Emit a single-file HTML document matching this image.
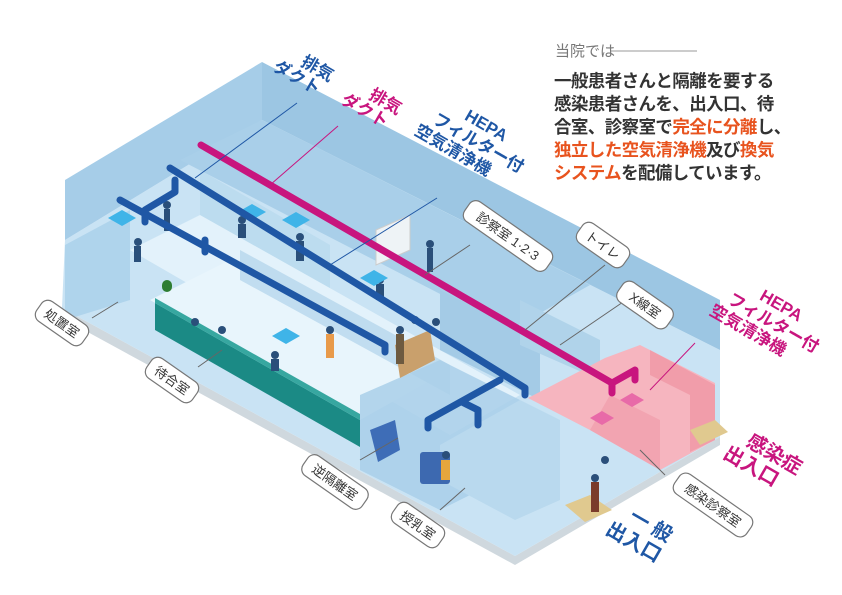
<!DOCTYPE html>
<html><head><meta charset="utf-8">
<style>
html,body{margin:0;padding:0;background:#fff;}
svg{display:block;font-family:"Liberation Sans","Noto Sans CJK JP",sans-serif;}
.lab rect{fill:#fff;stroke:#777;stroke-width:1.2;}
.lab text{font-size:13px;fill:#333;}
</style></head><body>
<svg width="842" height="595" viewBox="0 0 842 595" xmlns="http://www.w3.org/2000/svg">
<!-- floor slab base -->
<polygon points="62,318 515,565 720,445 720,437 515,556 62,308" fill="#cfd8de"/>
<!-- floor -->
<polygon points="62,308 515,556 720,437 720,350 262,120 65,240" fill="#c9e3f4"/>
<!-- back walls -->
<polygon points="65,240 262,120 262,62 65,180" fill="#a6cde8"/>
<polygon points="262,120 720,350 720,300 262,62" fill="#9cc6e3"/>
<!-- exam room block (between back wall and upper duct) -->
<polygon points="180,160 262,120 590,285 510,330" fill="#a9cfe9"/>
<polygon points="200,225 330,300 330,245 200,170" fill="#b9d9ee" opacity="0.8"/>
<!-- corridor lighter -->
<polygon points="130,250 200,215 520,395 450,435" fill="#e3f2fb"/>
<!-- waiting area lighter -->
<polygon points="150,300 230,260 440,375 360,420" fill="#e8f5fc"/>
<!-- interior partitions / rooms -->
<polygon points="65,245 130,210 130,300 65,320" fill="#a9d0ea" opacity="0.8"/>
<polygon points="240,250 450,365 450,395 240,280" fill="#a6cde7" opacity="0.6"/>
<polygon points="440,290 540,340 540,400 440,350" fill="#a4cbe6"/>
<polygon points="520,300 600,340 600,380 520,345" fill="#b0d3ea"/>
<polygon points="360,395 440,360 520,400 520,470 440,510 360,470" fill="#a9cfe9" opacity="0.85"/>
<polygon points="440,445 520,400 560,420 560,500 515,520 440,480" fill="#b9d9ee"/>
<!-- pink infection area -->
<polygon points="528,398 605,358 640,345 715,383 715,440 660,470 590,430" fill="#f6b5bf"/>
<polygon points="590,430 660,470 660,420 610,395" fill="#f09aa8" opacity="0.6"/>
<polygon points="650,350 715,385 715,440 690,452 690,395 650,375" fill="#ef8e9d" opacity="0.6"/>
<!-- bench (teal) -->
<polygon points="155,303 360,420 360,447 155,330" fill="#1b8a85"/>
<polygon points="155,298 360,414 360,420 155,303" fill="#37a7a0"/>
<!-- sofas -->
<polygon points="370,430 395,420 400,450 378,462" fill="#3e6db7"/>
<rect x="420" y="452" width="30" height="32" rx="3" fill="#3d69b0"/>
<!-- counter -->
<polygon points="395,345 430,330 435,360 400,378" fill="#c9a06c"/>
<!-- entrances steps -->
<polygon points="565,505 590,495 612,510 585,522" fill="#e0c98f"/>
<polygon points="690,430 715,420 728,432 700,445" fill="#e0c98f"/>
<!-- people (simple blobs) -->
<g fill="#2a4f7a">
<circle cx="167" cy="205" r="4"/><rect x="164" y="209" width="6" height="22"/>
<circle cx="138" cy="242" r="4"/><rect x="134" y="246" width="7" height="16"/>
<circle cx="242" cy="220" r="4"/><rect x="238" y="224" width="8" height="14"/>
<circle cx="300" cy="237" r="4"/><rect x="296" y="241" width="8" height="20"/>
<circle cx="380" cy="280" r="4"/><rect x="376" y="284" width="8" height="16"/>
<circle cx="430" cy="244" r="4"/><rect x="427" y="248" width="6" height="24"/>
<circle cx="195" cy="322" r="4"/><circle cx="222" cy="330" r="4"/>
<circle cx="275" cy="355" r="4"/><rect x="271" y="359" width="8" height="12"/>
<circle cx="330" cy="330" r="4"/><rect x="326" y="334" width="8" height="24" fill="#e89a4a"/>
<circle cx="400" cy="330" r="4"/><rect x="396" y="334" width="8" height="30" fill="#6d5a40"/>
<circle cx="415" cy="320" r="4"/><circle cx="436" cy="322" r="4"/>
<circle cx="446" cy="455" r="4"/><rect x="441" y="460" width="9" height="20" fill="#e6a63c"/>
<circle cx="595" cy="478" r="4"/><rect x="591" y="482" width="8" height="30" fill="#7a3b2b"/>
<circle cx="605" cy="460" r="4"/>
</g>
<rect x="162" y="280" width="10" height="12" fill="#2e7d32" rx="5"/>
<polygon points="376,230 410,215 410,250 376,265" fill="#eef3f6" stroke="#ccc"/>
<!-- blue air pads -->
<g fill="#3fb4e8">
<polygon points="108,218 122,210 136,218 122,226"/>
<polygon points="272,336 286,328 300,336 286,344"/>
<polygon points="282,220 296,212 310,220 296,228"/>
<polygon points="360,278 374,270 388,278 374,286"/>
<polygon points="238,212 252,204 266,212 252,220"/>
</g>
<g fill="#e86aa8">
<polygon points="590,418 602,411 614,418 602,425"/>
<polygon points="620,400 632,393 644,400 632,407"/>
</g>
<!-- ducts -->
<g stroke="#1f57a5" stroke-width="7" fill="none" stroke-linecap="round" stroke-linejoin="round">
<polyline points="120,200 385,345 385,352"/>
<polyline points="170,168 525,388 525,395"/>
<polyline points="145,222 145,210 175,192 175,180"/>
<line x1="205" y1="240" x2="205" y2="252"/>
<polyline points="500,380 428,420 428,428"/>
<polyline points="462,402 478,410 478,425"/>
</g>
<g stroke="#c8157e" stroke-width="7" fill="none" stroke-linecap="round" stroke-linejoin="round">
<polyline points="201,145 612,383 612,393"/>
<polyline points="612,383 635,370 635,380"/>
</g>
<!-- leader lines -->
<g stroke="#1f57a5" stroke-width="1" fill="none">
<line x1="297" y1="103" x2="195" y2="178"/>
<line x1="437" y1="198" x2="330" y2="265"/>
</g>
<g stroke="#c8157e" stroke-width="1" fill="none"><line x1="338" y1="126" x2="270" y2="185"/><line x1="695" y1="343" x2="650" y2="390"/></g>
<g stroke="#666" stroke-width="1" fill="none">
<line x1="470" y1="245" x2="425" y2="275"/>
<line x1="605" y1="265" x2="525" y2="330"/>
<line x1="626" y1="300" x2="560" y2="345"/>
<line x1="92" y1="318" x2="118" y2="302"/>
<line x1="198" y1="367" x2="222" y2="350"/>
<line x1="360" y1="460" x2="398" y2="438"/>
<line x1="440" y1="510" x2="465" y2="488"/>
<line x1="665" y1="475" x2="640" y2="450"/>
</g>
<!-- room labels -->
<g class="lab">
<g transform="translate(62,323) rotate(35)"><rect x="-28" y="-12" width="56" height="24" rx="8"/><text x="0" y="5" text-anchor="middle">処置室</text></g>
<g transform="translate(172,380) rotate(35)"><rect x="-28" y="-12" width="56" height="24" rx="8"/><text x="0" y="5" text-anchor="middle">待合室</text></g>
<g transform="translate(335,482) rotate(35)"><rect x="-36" y="-12" width="72" height="24" rx="8"/><text x="0" y="5" text-anchor="middle">逆隔離室</text></g>
<g transform="translate(418,525) rotate(35)"><rect x="-28" y="-12" width="56" height="24" rx="8"/><text x="0" y="5" text-anchor="middle">授乳室</text></g>
<g transform="translate(508,236) rotate(35)"><rect x="-50" y="-12" width="100" height="24" rx="8"/><text x="0" y="5" text-anchor="middle">診察室 1·2·3</text></g>
<g transform="translate(603,245) rotate(35)"><rect x="-28" y="-12" width="56" height="24" rx="8"/><text x="0" y="5" text-anchor="middle">トイレ</text></g>
<g transform="translate(645,305) rotate(35)"><rect x="-30" y="-12" width="60" height="24" rx="8"/><text x="0" y="5" text-anchor="middle">X線室</text></g>
<g transform="translate(713,505) rotate(35)"><rect x="-44" y="-12" width="88" height="24" rx="8"/><text x="0" y="5" text-anchor="middle">感染診察室</text></g>
</g>
<!-- duct callouts -->
<g font-weight="bold" font-size="17">
<g transform="translate(300,65) rotate(30)" fill="#1f57a5"><text x="0" y="0">排気</text><text x="-22" y="18">ダクト</text></g>
<g transform="translate(368,98) rotate(30)" fill="#c8157e"><text x="0" y="0">排気</text><text x="-22" y="18">ダクト</text></g>
<g transform="translate(448,110) rotate(30)" fill="#1f57a5"><text x="18" y="0">HEPA</text><text x="-8" y="19">フィルター付</text><text x="-18" y="38">空気清浄機</text></g>
<g transform="translate(743,290) rotate(30)" fill="#c8157e"><text x="18" y="0">HEPA</text><text x="-8" y="19">フィルター付</text><text x="-18" y="38">空気清浄機</text></g>
</g>
<g font-weight="bold" font-size="20">
<g transform="translate(745,445) rotate(30)" fill="#c8157e"><text x="0" y="0">感染症</text><text x="-14" y="22">出入口</text></g>
<g transform="translate(628,520) rotate(30)" fill="#1f57a5"><text x="0" y="0">一 般</text><text x="-14" y="23">出入口</text></g>
</g>
<!-- description text -->
<text x="555" y="56" font-size="15" fill="#777">当院では</text>
<line x1="611" y1="51" x2="697" y2="51" stroke="#999" stroke-width="1"/>
<g font-size="17.5" font-weight="bold" fill="#333" letter-spacing="-0.6">
<text x="554" y="87">一般患者さんと隔離を要する</text>
<text x="554" y="110">感染患者さんを、出入口、待</text>
<text x="554" y="133">合室、診察室で<tspan fill="#e8531e">完全に分離</tspan>し、</text>
<text x="554" y="156"><tspan fill="#e8531e">独立した空気清浄機</tspan>及び<tspan fill="#e8531e">換気</tspan></text>
<text x="554" y="179"><tspan fill="#e8531e">システム</tspan>を配備しています。</text>
</g>
</svg>
</body></html>
